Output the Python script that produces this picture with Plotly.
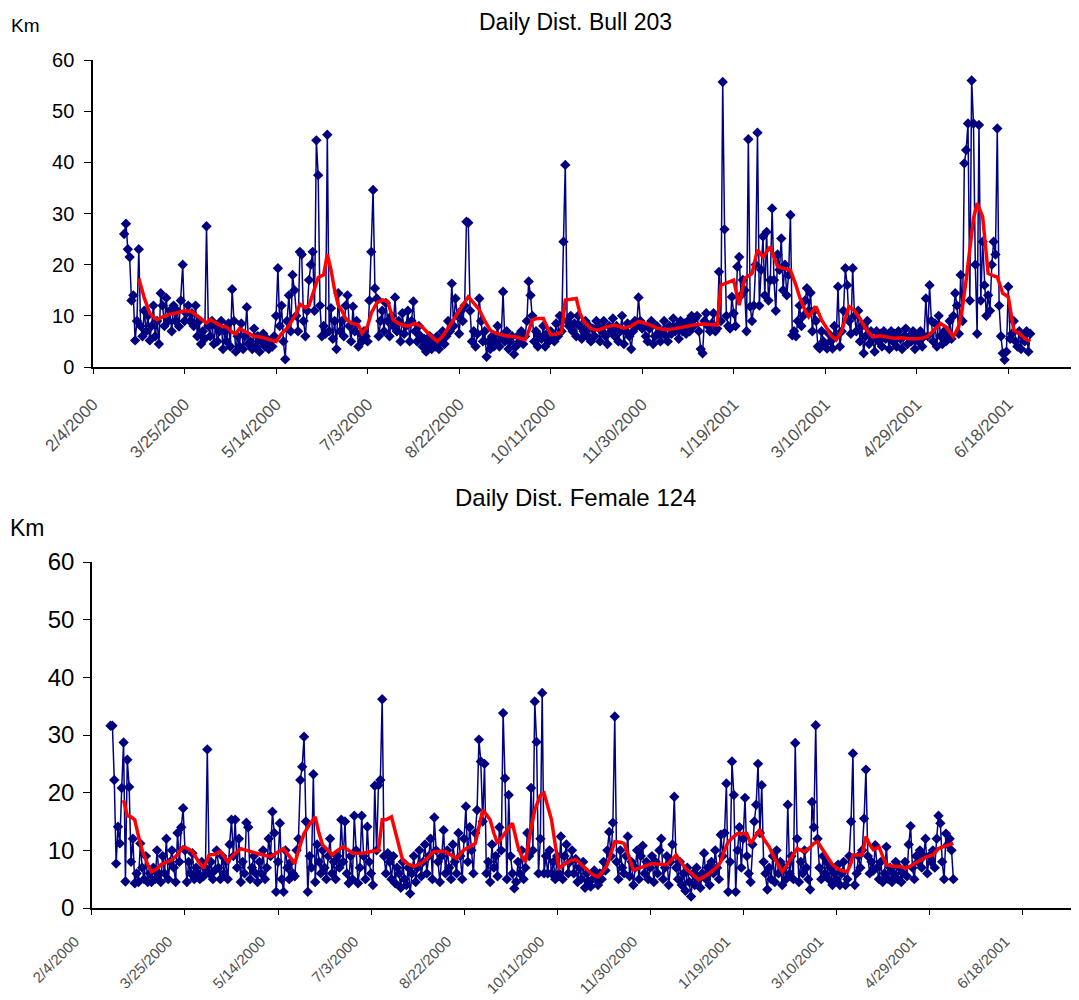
import pandas as pd
import plotly.graph_objects as go

# ---------------- data ----------------
BASE_DATE = "2/4/2000"
TICK_LABELS = ["2/4/2000", "3/25/2000", "5/14/2000", "7/3/2000", "8/22/2000",
               "10/11/2000", "11/30/2000", "1/19/2001", "3/10/2001", "4/29/2001",
               "6/18/2001"]

TITLE_BULL = "Daily Dist. Bull 203"
TITLE_FEMALE = "Daily Dist. Female 124"
UNIT = "Km"

# Bull 203: daily km, first value on 2/21/2000
BULL_START = "2/21/2000"
bull_km = [
    26, 28, 23, 21.5, 13, 14, 5.2, 9, 23, 8,
    6, 11, 7, 10, 5.2, 8, 12, 6, 9, 4.5,
    14.4, 12, 8, 13.5, 9, 11, 7, 12, 9, 11,
    7.9, 13, 20, 9, 10.5, 12, 9, 10.5, 8, 12,
    6, 9, 4.5, 7, 5.5, 27.5, 8, 6, 9, 4.5,
    8, 5, 7, 9, 3.5, 7, 5, 8.5, 4, 15.2,
    9, 3, 6, 4, 8.5, 3.5, 6, 11.7, 4.5, 5,
    3.5, 7.5, 4, 6, 3, 5, 6.5, 4, 5.5, 3.5,
    5, 4, 6, 10, 19.3, 8, 12, 5, 1.5, 9,
    14, 7, 18, 15, 10, 7, 22.5, 22, 9, 6,
    11, 17, 20, 22.5, 11, 44.3, 37.5, 12, 6, 8,
    6.5, 45.4, 7, 11.5, 5.5, 9, 3.5, 14.4, 7, 9,
    6, 12, 14, 8, 5, 11.8, 7, 9, 4, 6.5,
    5, 7, 6, 5, 13, 22.5, 34.6, 15.4, 13.4, 6,
    9, 11, 7, 12.5, 9, 6, 10, 8, 13.6, 7,
    9, 5, 10.5, 6.5, 8, 11, 5, 9, 12.8, 7,
    5, 8, 6, 4, 5.5, 3, 4.5, 6, 3.5, 5,
    4, 6, 3.5, 5, 7, 4.5, 6, 9, 7, 16.3,
    8, 13.4, 10, 6.5, 11, 9, 12, 28.4, 28.2, 11,
    5, 7, 4, 6.5, 13.4, 9, 5, 7, 2, 5,
    3.5, 6, 4, 5, 8, 4, 6, 14.7, 5, 7,
    3.5, 5, 6, 2.5, 4, 6, 5, 7, 4.5, 6,
    9, 16.7, 14, 10, 5, 7, 4, 6, 5.5, 8,
    4, 6.5, 5, 7, 6, 5, 8.5, 6, 10, 7,
    24.5, 39.5, 9, 8, 10, 7, 8.5, 6, 10, 8,
    5.5, 7, 9, 6, 8, 5, 7.5, 6, 9, 8,
    5, 7, 9, 6, 4.5, 8, 7, 9.5, 6, 8,
    5, 7, 10, 4.5, 7, 8.5, 6, 3.5, 7, 9,
    8, 13.6, 9, 7.5, 8, 6, 5, 7.5, 9, 4.5,
    6, 8, 6.5, 5, 7, 9, 6, 5, 8, 6.5,
    9.5, 7, 8, 5.5, 9, 7, 8.5, 6.5, 9, 7,
    10, 8, 9.5, 10, 7, 3.5, 2.7, 9, 10.5, 8,
    7, 8.5, 10.5, 7, 7.5, 18.6, 9, 55.7, 26.9, 10,
    8, 7.5, 13.7, 10.5, 8, 19.6, 21.5, 14, 17, 15,
    7, 44.5, 11.8, 9, 12, 20, 45.8, 12, 19, 25.5,
    14, 26.4, 13, 17, 31, 17, 11, 22, 19, 25.1,
    15, 20, 14, 18, 29.7, 6.2, 7, 6, 9, 12,
    8, 10, 13, 15.4, 11, 14.5, 7, 11, 9, 4,
    3.6, 7, 5, 4.5, 3.6, 6.5, 5, 3.6, 8, 6,
    15.7, 4, 7, 11, 19.3, 16, 9, 6.5, 19.3, 10,
    7, 11, 5, 8, 2.7, 6, 9, 4.5, 7, 5.5,
    3, 7, 5, 6.5, 4, 7, 5.5, 6, 3.5, 7,
    5, 6.5, 4, 7, 5.5, 3.5, 6, 7.5, 4.5, 6,
    5, 7, 3.5, 6, 5, 7, 4, 6, 13.4, 6,
    16, 9, 5, 8.5, 4, 10, 6, 4.5, 7, 5,
    6, 9, 5.5, 10, 14.4, 12, 6.5, 18, 9, 39.8,
    42.4, 47.6, 13, 56, 47.6, 20, 6.5, 47.3, 13, 24.5,
    16, 10, 14, 11, 20, 24.5, 22, 46.6, 12, 6,
    2.7, 1.4, 3, 15.7, 5.5, 6.5, 9, 5, 4, 7,
    3.5, 6, 5, 7, 3, 6.5,
]

# Bull 203 red trend: day number since 2/4/2000 and km
bull_trend_day = [25, 28, 31, 35, 38, 42, 46, 50, 54, 57, 60, 62, 64, 67, 70, 73, 76, 78, 80, 84,
                  88, 92, 96, 100, 103, 106, 108, 111, 113, 116, 118, 121, 123, 126, 128, 130, 132, 134, 136, 138,
                  141, 145, 147, 150, 152, 155, 158, 161, 164, 168, 172, 176, 180, 183, 186, 188, 191, 194, 197, 200,
                  203, 205, 208, 211, 214, 217, 220, 224, 228, 232, 236, 238, 240, 243, 246, 248, 250, 253, 256, 258,
                  261, 264, 266, 268, 272, 276, 280, 285, 290, 294, 298, 303, 308, 313, 318, 323, 328, 333, 337, 341,
                  343, 347, 350, 353, 356, 360, 363, 366, 370, 374, 378, 381, 384, 386, 389, 391, 395, 398, 401, 403,
                  406, 409, 411, 413, 416, 419, 422, 426, 430, 434, 438, 442, 446, 450, 453, 456, 460, 463, 466, 470,
                  473, 475, 477, 479, 481, 483, 485, 486, 488, 489, 492, 494, 497, 500, 503, 506, 509, 512]
bull_trend_km = [17.3, 13.5, 10.5, 9.2, 9.8, 10.3, 10.6, 11, 10.8, 10, 9.2, 8.6, 9.3, 8.6, 8, 7.8, 6.8, 6.5, 7.5, 6.8,
                 6, 5.8, 5.4, 5, 6.5, 7.6, 8.7, 10.3, 12.3, 11.6, 12, 15.5, 17.5, 18, 22, 19, 15, 12, 11, 9.5,
                 8.6, 8.2, 6.6, 8, 10.5, 12.5, 13.1, 12.8, 9.2, 8.3, 8, 8.5, 7.8, 6.6, 5.5, 5, 6, 7.5, 9.2, 11,
                 12.8, 13.7, 12.5, 11.2, 9, 7.2, 6.6, 6.2, 6, 5.8, 5.3, 7, 9.2, 9.5, 9.5, 8, 6.3, 6.4, 6.8, 13.1,
                 13.3, 13.4, 10.5, 9, 7.5, 7.2, 7.8, 8.2, 7.6, 8, 8.9, 8.4, 7.6, 7.3, 7.5, 7.9, 8.2, 8.4, 8.3, 8.2,
                 16, 16.5, 17, 12.1, 17.3, 18.3, 22.9, 21.5, 23.5, 19.6, 19.3, 18.9, 16, 13.7, 11, 9.8, 11.8, 9.2, 7.5, 6.2,
                 5.3, 7, 9.5, 11.8, 11, 9.5, 7.5, 5.9, 6.1, 5.8, 5.6, 5.7, 5.5, 5.5, 5.6, 6, 7.5, 8.5, 7.8, 5.9,
                 8, 11.8, 17, 23.5, 29, 32, 30.5, 29.4, 22, 18.3, 17.8, 17.6, 14.4, 13.7, 7.2, 6.6, 5.6, 5]

# Female 124: daily km, first value on 2/14/2000
FEMALE_START = "2/14/2000"
female_km = [
    31.6, 31.6, 22.2, 7.7, 14.1, 11.2, 20.8, 28.7, 4.6, 25.7,
    21, 8, 12, 4.3, 6, 4.5, 11.2, 7, 5, 9,
    4.5, 6, 4.5, 7, 5, 10, 6, 4.5, 9, 6,
    12, 5, 8, 10, 7, 4.5, 13, 8, 14, 17.3,
    10, 4.5, 8, 6, 9.5, 5, 7, 6, 5, 8,
    5.5, 7, 27.5, 6, 8, 5, 6.5, 10, 7, 5,
    9, 6, 8, 5, 11, 15.3, 9, 15.3, 7, 12,
    4.5, 8, 6, 14.8, 14, 5, 7, 9, 6, 4.5,
    8, 6, 10, 5, 7, 12, 9, 16.7, 13, 2.8,
    8, 14.7, 5, 2.8, 10, 7, 5, 8, 6, 5.5,
    10, 12, 22.2, 24.5, 29.7, 15, 2.8, 9, 7, 23.2,
    4.5, 11, 8, 6, 10, 7, 5, 9, 12, 6,
    8, 5, 9, 7, 15.3, 8, 15, 6, 4.3, 9,
    5, 16, 10, 4.3, 7, 16, 9, 5, 14.1, 8,
    6, 4, 21.2, 10, 21.3, 22.2, 36.2, 9, 6, 9.5,
    8, 5, 9, 4.3, 7, 6, 3.5, 8, 5, 4,
    7, 2.5, 6, 9, 4.5, 7, 10, 5.5, 8, 11,
    6, 9, 12, 5, 15.7, 10, 8, 4.5, 9, 13.5,
    6, 10, 7, 5, 11, 8, 6, 13, 9, 5,
    12, 17.6, 8, 14, 10, 6, 13, 17, 29.2, 25.4,
    15, 25, 6, 8, 4.5, 11, 7, 9, 5.5, 14,
    10, 33.8, 22.5, 5, 19.6, 9, 6, 3.4, 4.5, 8,
    6, 10, 5, 7, 13, 9, 20.8, 10, 35.8, 28.8,
    6, 12, 37.3, 6, 9, 6, 10, 6, 8, 5,
    9, 6, 12.4, 5, 9, 11, 6, 8, 10, 6,
    8.5, 4.5, 7, 5, 8, 3.5, 6, 4.5, 3.7, 5,
    6.5, 5, 4, 6, 5, 8, 6.5, 10, 13.2, 9,
    14.8, 33.2, 8, 5, 10, 7, 6, 9, 12.4, 5.5,
    8, 4, 7, 10, 5, 9, 10.8, 6, 8, 5,
    7, 9, 4.5, 8, 6, 10, 12, 5, 7, 9,
    4, 8, 11, 19.3, 7, 5, 8, 4, 6, 3,
    7, 4.5, 2, 6, 4, 7, 5, 3.5, 6, 9.5,
    5, 7, 4, 8, 6, 10, 7, 5, 12.7, 9,
    13, 21.6, 2.8, 8, 25.4, 19.6, 2.8, 10, 14, 7,
    12, 19.1, 9, 6, 4.5, 11, 15, 17.9, 25, 13,
    21.3, 8, 6, 3.2, 7, 5, 9, 4.5, 10, 6,
    8, 4, 7, 5, 17.9, 6, 9, 5, 28.6, 12,
    4.5, 8, 6, 10, 7, 5, 3.2, 18.4, 14, 31.7,
    12, 7, 5, 9, 6, 8, 5, 7, 4, 6,
    5, 7.5, 4, 6, 8, 4, 5, 9, 15, 26.8,
    4, 6, 9, 7, 10, 15.5, 24, 9, 6, 8,
    6.5, 10.9, 7, 5, 8, 4.5, 6, 10.6, 5, 7,
    4.5, 6, 8, 5, 7, 4.5, 6, 8, 5.5, 11,
    14.2, 7, 5, 9, 8, 10, 7, 9, 12, 6,
    9, 8, 10, 7, 12, 16, 14.7, 8, 5, 12.9,
    11, 12, 10, 5,
]

female_trend_day = [17, 19, 21, 23, 25, 27, 30, 32, 35, 37, 40, 43, 46, 49, 52, 54, 57, 60, 63, 66,
                    69, 71, 73, 76, 80, 84, 88, 92, 96, 100, 103, 106, 109, 112, 114, 117, 120, 122, 124, 127,
                    129, 132, 135, 138, 140, 143, 146, 150, 154, 156, 158, 161, 164, 167, 170, 173, 176, 178, 181, 184,
                    187, 190, 193, 196, 198, 200, 203, 206, 208, 210, 212, 214, 216, 218, 222, 226, 229, 231, 233, 235,
                    238, 241, 243, 245, 247, 249, 251, 255, 258, 260, 263, 266, 269, 272, 275, 277, 279, 281, 284, 286,
                    289, 291, 295, 301, 305, 309, 312, 314, 317, 319, 323, 326, 330, 333, 336, 338, 340, 342, 345, 347,
                    350, 352, 354, 357, 359, 361, 364, 367, 371, 373, 375, 377, 379, 381, 383, 386, 388, 390, 393, 396,
                    398, 400, 402, 404, 406, 408, 409, 412, 414, 416, 418, 420, 423, 425, 427, 430, 434, 438, 441, 445,
                    448, 452, 455, 459, 463]
female_trend_km = [18.7, 16, 15.8, 15.3, 12.5, 10, 7.5, 6.3, 6.8, 7.5, 7.9, 8.3, 9.3, 10.6, 10.2, 9.8, 8.2, 6.9, 9.2, 9.3,
                   9.8, 8.8, 8, 9.2, 10.3, 9.9, 9.5, 9.2, 8.9, 9.8, 10.3, 9, 7.7, 11, 12.9, 14.5, 15.8, 13, 10.9, 10,
                   9.2, 10, 10.6, 10, 9.5, 9.5, 9.5, 9.8, 10, 15.3, 15.3, 15.8, 11.8, 8.3, 7.6, 7.2, 7.6, 8, 8.9, 9.8,
                   9.8, 9.8, 9.2, 8.6, 9.4, 10.1, 10.6, 11.2, 14, 17, 16.2, 15.3, 13, 11.2, 13, 14.7, 10.6, 9, 8, 12,
                   17, 19.5, 19.9, 17.5, 15.3, 11, 6.9, 7.8, 8.3, 8.4, 7.5, 6.6, 5.8, 5.4, 6.5, 7.5, 9.5, 11.5, 11.4, 11.2,
                   8.5, 6.6, 7, 7.7, 7.6, 7.5, 8.5, 9.2, 7.8, 6.9, 5.8, 4.9, 5.6, 6.3, 7.2, 8, 10, 11.5, 12.4, 12.9,
                   12.9, 12.9, 11.2, 12.5, 13.6, 12, 10.6, 8.5, 6.3, 7.2, 8.3, 9.3, 10.3, 10, 9.8, 10.5, 11.2, 11.5, 10, 8.5,
                   7.5, 7, 6.6, 6.4, 6.3, 7.8, 9.2, 9.2, 9.2, 12.4, 11, 10.1, 10.6, 9, 7.5, 7.3, 7.2, 6.9, 7.5, 8.3,
                   8.8, 9.2, 10.3, 10.8, 11.2]

# ---------------- helpers ----------------
FONT = "Liberation Sans, Arial, sans-serif"
NAVY = "#000080"
RED = "#FF0000"

base = pd.to_datetime(BASE_DATE, format="%m/%d/%Y")


def daily_dates(start, n):
    s = pd.to_datetime(start, format="%m/%d/%Y")
    return [s + pd.Timedelta(days=i) for i in range(n)]


def day_dates(days):
    return [base + pd.Timedelta(days=int(d)) for d in days]


tick_vals = [pd.to_datetime(t, format="%m/%d/%Y") for t in TICK_LABELS]

fig = go.Figure()

blue_line = dict(color=NAVY, width=1.5)
blue_marker = dict(symbol="diamond", size=8, color=NAVY)

fig.add_trace(go.Scatter(
    x=daily_dates(BULL_START, len(bull_km)), y=bull_km, mode="lines+markers",
    line=blue_line, marker=blue_marker, xaxis="x", yaxis="y", showlegend=False))
fig.add_trace(go.Scatter(
    x=day_dates(bull_trend_day), y=bull_trend_km, mode="lines",
    line=dict(color=RED, width=3.5), xaxis="x", yaxis="y", showlegend=False))

fig.add_trace(go.Scatter(
    x=daily_dates(FEMALE_START, len(female_km)), y=female_km, mode="lines+markers",
    line=blue_line, marker=blue_marker, xaxis="x2", yaxis="y2", showlegend=False))
fig.add_trace(go.Scatter(
    x=day_dates(female_trend_day), y=female_trend_km, mode="lines",
    line=dict(color=RED, width=3.5), xaxis="x2", yaxis="y2", showlegend=False))

xcommon = dict(type="date", tickvals=tick_vals, ticktext=TICK_LABELS, tickangle=-45,
               showline=True, linecolor="black", linewidth=1.5, ticks="outside",
               ticklen=5, tickcolor="black", showgrid=False, zeroline=False,
               automargin=False)
ycommon = dict(range=[0, 60], dtick=10, showline=True, linecolor="black", linewidth=1.5,
               ticks="outside", ticklen=7, tickcolor="black", showgrid=False, zeroline=False,
               automargin=False)

# the page body adds an 8 px offset, so positions below are 8 px up/left of the target
fig.update_layout(
    width=1079, height=1000, margin=dict(l=0, r=0, t=0, b=0, autoexpand=False),
    paper_bgcolor="white", plot_bgcolor="white",
    xaxis=dict(xcommon, domain=[0.0788, 0.9898], anchor="y",
               range=[base, base + pd.Timedelta(days=537)],
               ticklabelstandoff=14,
               tickfont=dict(family=FONT, size=17, color="#505050")),
    yaxis=dict(ycommon, domain=[0.641, 0.948], anchor="x",
               ticklabelstandoff=6,
               tickfont=dict(family=FONT, size=20, color="black")),
    xaxis2=dict(xcommon, domain=[0.0778, 0.9917], anchor="y2",
                range=[base, base + pd.Timedelta(days=530)],
                ticklabelshift=-17, ticklabelstandoff=12,
                tickfont=dict(family=FONT, size=15, color="#505050")),
    yaxis2=dict(ycommon, domain=[0.100, 0.446], anchor="x2",
                ticklabelstandoff=4,
                tickfont=dict(family=FONT, size=24, color="black")),
    annotations=[
        dict(text=TITLE_BULL, x=0.5255, y=0.986, xref="paper", yref="paper",
             xanchor="center", yanchor="middle",
             showarrow=False, font=dict(family=FONT, size=23, color="black")),
        dict(text=TITLE_FEMALE, x=0.5255, y=0.511, xref="paper", yref="paper",
             xanchor="center", yanchor="middle",
             showarrow=False, font=dict(family=FONT, size=24, color="black")),
        dict(text=UNIT, x=0.001, y=0.983, xref="paper", yref="paper",
             xanchor="left", yanchor="middle",
             showarrow=False, font=dict(family=FONT, size=19, color="black")),
        dict(text=UNIT, x=0.0, y=0.480, xref="paper", yref="paper",
             xanchor="left", yanchor="middle",
             showarrow=False, font=dict(family=FONT, size=23, color="black")),
    ],
)

fig.write_html("out.html")
